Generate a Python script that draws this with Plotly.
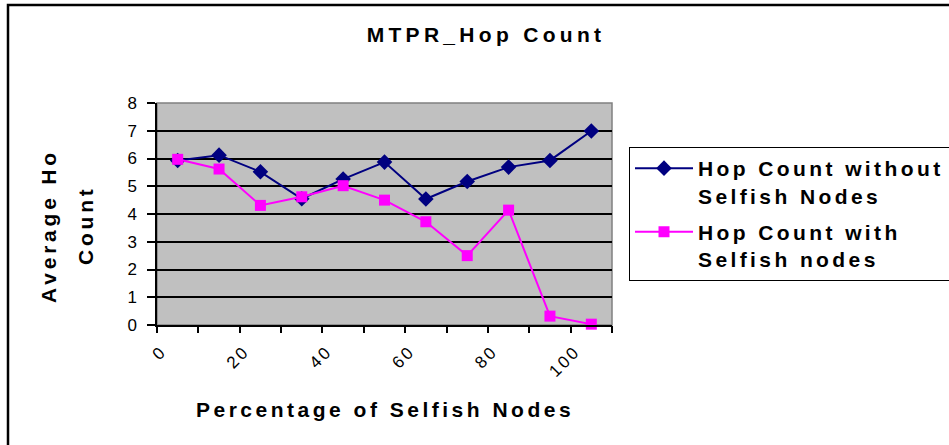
import plotly.graph_objects as go

# ---- data ----
pct_selfish = [0, 10, 20, 30, 40, 50, 60, 70, 80, 90, 100]
hop_without = [5.93, 6.12, 5.52, 4.55, 5.26, 5.87, 4.54, 5.17, 5.69, 5.93, 6.99]
hop_with = [5.97, 5.62, 4.31, 4.62, 5.02, 4.50, 3.72, 2.50, 4.14, 0.32, 0.03]
x_tick_vals = [0, 20, 40, 60, 80, 100]
x_tick_text = ["0", "20", "40", "60", "80", "100"]
x_boundaries = [-5, 5, 15, 25, 35, 45, 55, 65, 75, 85, 95, 105]
y_ticks = [0, 1, 2, 3, 4, 5, 6, 7, 8]

FONT = "Arial, Liberation Sans, sans-serif"
W, H = 949, 445
L, R, T, B = 157, 949 - 612, 103, 445 - 325
PW, PH = W - L - R, H - T - B


def px_x(px):
    return (px - L) / PW


def px_y(py):
    return (H - B - py) / PH


def spaced(s, sp):
    return f'<span style="letter-spacing:{sp}px">{s}</span>'


fig = go.Figure()
fig.add_trace(go.Scatter(
    x=pct_selfish, y=hop_without, mode="lines+markers",
    name=spaced("Hop Count without", 3.4) + "<br>" + spaced("Selfish Nodes", 3.4),
    line=dict(color="#000080", width=2),
    marker=dict(symbol="diamond", size=12, color="#000080"),
    cliponaxis=False, legendgroup="a",
))
fig.add_trace(go.Scatter(
    x=pct_selfish, y=hop_with, mode="lines+markers",
    name=spaced("Hop Count with", 3.4) + "<br>" + spaced("Selfish nodes", 3.4),
    line=dict(color="#FF00FF", width=2),
    marker=dict(symbol="square", size=11, color="#FF00FF"),
    cliponaxis=False, legendgroup="b",
))
# invisible trace to carry the category-boundary tick axis
fig.add_trace(go.Scatter(x=[-5, 105], y=[None, None], xaxis="x2", showlegend=False,
                         hoverinfo="skip"))

fig.update_layout(
    width=W, height=H,
    margin=dict(l=L, r=R, t=T, b=B, autoexpand=False),
    paper_bgcolor="white", plot_bgcolor="#C0C0C0",
    font=dict(family=FONT, color="black"),
    title=dict(text=spaced("MTPR_Hop Count", 4.3), font=dict(size=21, weight="bold"),
               xref="container", x=486 / W, xanchor="center",
               yref="container", y=1 - 35 / H, yanchor="middle"),
    xaxis=dict(range=[-5, 105], tickvals=x_tick_vals,
               ticktext=[spaced(t, 2.5) for t in x_tick_text],
               tickangle=-45, ticks="", showgrid=False, zeroline=False,
               showline=True, linecolor="black", linewidth=1.5,
               ticklabelshift=-16, ticklabelstandoff=8,
               tickfont=dict(size=17, family=FONT)),
    xaxis2=dict(range=[-5, 105], overlaying="x", anchor="y", side="bottom",
                tickvals=x_boundaries, showticklabels=False, ticks="outside",
                ticklen=7, tickcolor="black", tickwidth=1.5,
                showgrid=False, zeroline=False, showline=False),
    yaxis=dict(range=[0, 8], tickvals=y_ticks, ticks="outside", ticklen=8,
               tickcolor="black", tickwidth=1.5, ticklabelstandoff=7,
               showgrid=True, gridcolor="black", gridwidth=1.5, zeroline=False,
               showline=True, linecolor="black", linewidth=1.5,
               tickfont=dict(size=17, family=FONT)),
    legend=dict(x=px_x(629), y=px_y(147), xanchor="left", yanchor="top",
                xref="paper", yref="paper",
                bordercolor="black", borderwidth=1, bgcolor="white",
                font=dict(size=21, family=FONT, weight="bold"),
                valign="top", itemwidth=58, tracegroupgap=6),
    showlegend=True,
    shapes=[
        # plot area border (grey)
        dict(type="rect", xref="paper", yref="paper", x0=0, x1=1, y0=0, y1=1,
             line=dict(color="#808080", width=1.5), layer="below"),
        # outer chart border
        dict(type="rect", xref="paper", yref="paper",
             x0=px_x(8), x1=px_x(975), y0=px_y(470), y1=px_y(5),
             line=dict(color="black", width=2.5)),
    ],
    annotations=[
        dict(text=spaced("Percentage of Selfish Nodes", 3.5), xref="paper", yref="paper",
             x=0.5, y=px_y(410), xanchor="center", yanchor="middle", showarrow=False,
             font=dict(size=21, family=FONT, weight="bold")),
        dict(text=spaced("Average Ho", 3.8), xref="paper", yref="paper",
             x=px_x(48), y=px_y(226), xanchor="center", yanchor="middle", showarrow=False,
             textangle=-90, font=dict(size=21, family=FONT, weight="bold")),
        dict(text=spaced("Count", 3.8), xref="paper", yref="paper",
             x=px_x(85), y=px_y(225), xanchor="center", yanchor="middle", showarrow=False,
             textangle=-90, font=dict(size=21, family=FONT, weight="bold")),
    ],
)

fig.write_html("out.html", config={"displayModeBar": False},
               post_script="document.body.style.margin='0';document.body.style.overflow='hidden';")
